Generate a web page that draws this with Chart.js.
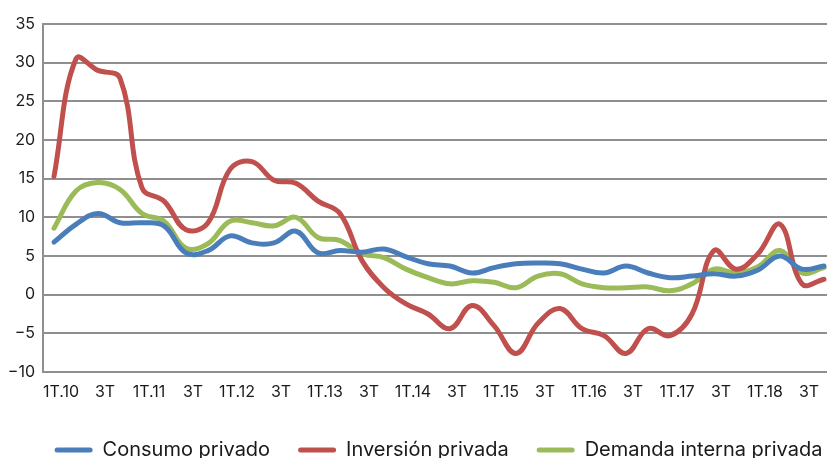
<html lang="es">
  <head>
    <meta charset="UTF-8" />
    <script src="https://cdn.jsdelivr.net/npm/chart.js"></script>
    <title>Demanda privada</title>
    <style>
      body { margin: 0; overflow: hidden; background: #fff; }
    </style>
  </head>
  <body>
    <canvas id="chart" width="840" height="475"></canvas>
    <script>
      // quarters 1T.10 .. 4T.18
      const quarters = [
        "1T.10", "2T", "3T", "4T", "1T.11", "2T", "3T", "4T",
        "1T.12", "2T", "3T", "4T", "1T.13", "2T", "3T", "4T",
        "1T.14", "2T", "3T", "4T", "1T.15", "2T", "3T", "4T",
        "1T.16", "2T", "3T", "4T", "1T.17", "2T", "3T", "4T",
        "1T.18", "2T", "3T", "4T"
      ];

      const consumo = [
        6.8, 9.1, 10.5, 9.3, 9.3, 8.9, 5.4, 5.7,
        7.6, 6.7, 6.7, 8.2, 5.4, 5.7, 5.5, 5.9,
        4.9, 4.0, 3.7, 2.8, 3.5, 4.0, 4.1, 4.0,
        3.3, 2.8, 3.7, 2.8, 2.2, 2.4, 2.7, 2.4,
        3.2, 5.0, 3.3, 3.7
      ];

      const inversion = [
        15.3, 30.5, 29.0, 28.0, 13.8, 12.1, 8.4, 9.3,
        16.2, 17.2, 14.8, 14.4, 12.1, 10.5, 4.4, 0.9,
        -1.2, -2.5, -4.4, -1.4, -4.0, -7.6, -3.7, -1.8,
        -4.4, -5.3, -7.6, -4.4, -5.3, -2.5, 5.7, 3.3,
        5.3, 9.1, 1.4, 2.0
      ];

      const demanda = [
        8.6, 13.4, 14.5, 13.6, 10.5, 9.5, 6.0, 6.6,
        9.5, 9.3, 8.9, 10.0, 7.4, 7.0, 5.3, 4.8,
        3.3, 2.2, 1.4, 1.8, 1.6, 0.9, 2.4, 2.7,
        1.4, 0.9, 0.9, 1.0, 0.5, 1.4, 3.3, 2.8,
        3.6, 5.7, 2.8, 3.5
      ];

      const seriesNames = ["Consumo privado", "Inversión privada", "Demanda interna privada"];
      const seriesColors = ["#4a7ebb", "#c0504d", "#9bbb59"];

      const FONT = "Inter, 'Noto Sans', sans-serif";
      const TEXT = "#1a1a1a";
      const GRID = "#8f8f8f";

      function makeSet(i, values) {
        return {
          label: seriesNames[i],
          data: values,
          borderColor: seriesColors[i],
          backgroundColor: seriesColors[i],
          borderWidth: 5,
          pointRadius: 0,
          tension: 0.4,
          borderCapStyle: "round",
          borderJoinStyle: "round",
        };
      }

      // nudge the legend a bit to the right, like the original
      const legendShift = {
        id: "legendShift",
        afterLayout(chart) {
          chart.legend.left += 17;
          chart.legend.right += 17;
        },
      };

      new Chart(document.getElementById("chart"), {
        type: "line",
        data: {
          labels: quarters,
          datasets: [makeSet(0, consumo), makeSet(1, inversion), makeSet(2, demanda)],
        },
        plugins: [legendShift],
        options: {
          responsive: false,
          animation: false,
          layout: { padding: { top: 24, left: 8, right: 5, bottom: 5 } },
          plugins: {
            tooltip: { enabled: false },
            legend: {
              position: "bottom",
              labels: {
                color: TEXT,
                font: { family: FONT, size: 20 },
                boxWidth: 38,
                boxHeight: 5,
                padding: 28,
                useBorderRadius: true,
                borderRadius: 2.5,
                generateLabels(chart) {
                  return Chart.defaults.plugins.legend.labels
                    .generateLabels(chart)
                    .map((it) => Object.assign(it, { lineWidth: 0 }));
                },
              },
            },
          },
          scales: {
            x: {
              offset: true,
              grid: { display: false, drawTicks: false },
              border: { color: GRID, width: 2 },
              afterFit(scale) { scale.height = 40; },
              ticks: {
                autoSkip: false,
                maxRotation: 0,
                padding: 11,
                labelOffset: 7,
                color: TEXT,
                font: { family: FONT, size: 16 },
                callback(v, i) { return i % 2 === 0 ? quarters[i] : ""; },
              },
            },
            y: {
              min: -10,
              max: 35,
              grid: { color: GRID, lineWidth: 2, drawTicks: false },
              border: { color: GRID, width: 2 },
              afterFit(scale) { scale.width = 35; },
              ticks: {
                stepSize: 5,
                padding: 8,
                color: TEXT,
                font: { family: FONT, size: 16 },
                callback(v) { return v < 0 ? "\u2212" + Math.abs(v) : v; },
              },
            },
          },
        },
      });
    </script>
  </body>
</html>
